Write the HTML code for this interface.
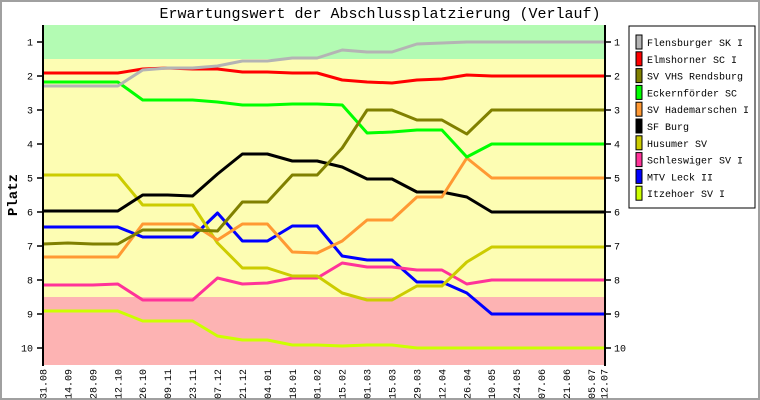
<!DOCTYPE html>
<html><head><meta charset="utf-8"><style>
html,body{margin:0;padding:0;background:#fff}
svg{display:block}
text{font-family:"Liberation Mono","DejaVu Sans Mono",monospace;fill:#000}
</style></head><body>
<svg width="760" height="400" viewBox="0 0 760 400" xmlns="http://www.w3.org/2000/svg">
<rect x="0" y="0" width="760" height="400" fill="#fff"/>
<rect x="1" y="1" width="758" height="398" fill="none" stroke="#a0a0a0" stroke-width="2"/>
<text x="380" y="18" font-size="15" text-anchor="middle">Erwartungswert der Abschlussplatzierung (Verlauf)</text>
<rect x="43" y="25" width="562" height="34" fill="#b3fbb3"/>
<rect x="43" y="59" width="562" height="238" fill="#fdfdb3"/>
<rect x="43" y="297" width="562" height="68" fill="#fdb3b3"/>
<g id="lines" fill="none" stroke-width="3" stroke-linejoin="round"></g>
<line x1="43" y1="25" x2="43" y2="366" stroke="#000" stroke-width="2"/>
<line x1="605" y1="25" x2="605" y2="366" stroke="#000" stroke-width="2"/>
<g id="ticks" stroke="#000" stroke-width="1.5"></g>
<g id="ylab" font-size="10"></g>
<g id="xlab" font-size="10"></g>
<text x="0" y="0" font-size="14" font-weight="bold" transform="translate(17,195) rotate(-90)" text-anchor="middle">Platz</text>
<rect x="629" y="26" width="126" height="182" fill="#fff" stroke="#000" stroke-width="1"/>
<g id="leg" font-size="10"></g>
</svg>
<script>
var NS="http://www.w3.org/2000/svg";
function el(t,a,p,tx){var e=document.createElementNS(NS,t);for(var k in a)e.setAttribute(k,a[k]);if(tx)e.textContent=tx;p.appendChild(e);return e;}
var xs=[];for(var i=0;i<23;i++)xs.push(43+24.93*i);xs.push(604);
function ext(a){while(a.length<24)a.push(a[a.length-1]);return a;}
var S=[
["Flensburger SK I","#b4b4b4",[86,86,86,86,70,68,68,66,61,61,58,58,50,52,52,44,43,42,42]],
["Elmshorner SC I","#ff0000",[73,73,73,73,69,68,69,69,72,72,73,73,80,82,83,80,79,75,76]],
["SV VHS Rendsburg","#808000",[244,243,244,244,230,230,230,231,202,202,175,175,148,110,110,120,120,134,110]],
["Eckernförder SC","#00ff00",[82,82,82,82,100,100,100,102,105,105,104,104,105,133,132,130,130,157,144]],
["SV Hademarschen I","#ff9933",[257,257,257,257,224,224,224,240,224,224,252,253,241,220,220,197,197,158,178]],
["SF Burg","#000000",[211,211,211,211,195,195,196,174,154,154,161,161,167,179,179,192,192,197,212]],
["Husumer SV","#cccc00",[175,175,175,175,205,205,205,243,268,268,276,276,293,300,300,286,286,262,247]],
["Schleswiger SV I","#ff3399",[285,285,285,284,300,300,300,278,284,283,278,278,263,267,267,270,270,284,280]],
["MTV Leck II","#0000ff",[227,227,227,227,237,237,237,213,241,241,226,226,256,260,260,282,282,293,314]],
["Itzehoer SV I","#ccff00",[311,311,311,311,321,321,321,336,340,340,345,345,346,345,345,348]]
];
var L=document.getElementById("lines"),G=document.getElementById("leg");
S.slice().reverse().forEach(function(s){var d=ext(s[2].slice());var pts=d.map(function(y,i){return xs[i].toFixed(1)+","+y}).join(" ");el("polyline",{points:pts,stroke:s[1]},L);});
S.forEach(function(s,i){var cy=42+i*16.8;el("rect",{x:636,y:cy-7,width:6,height:14,fill:s[1],stroke:"#000","stroke-width":1},G);el("text",{x:647,y:cy+4},G,s[0]);});
var T=document.getElementById("ticks"),Y=document.getElementById("ylab"),X=document.getElementById("xlab");
for(var r=1;r<=10;r++){var y=8+34*r;el("line",{x1:37,y1:y,x2:43,y2:y},T);el("line",{x1:605,y1:y,x2:611,y2:y},T);
el("text",{x:33,y:y+3.5,"text-anchor":"end"},Y,""+r);el("text",{x:614,y:y+3.5},Y,""+r);}
var D=["31.08","14.09","28.09","12.10","26.10","09.11","23.11","07.12","21.12","04.01","18.01","01.02","15.02","01.03","15.03","29.03","12.04","26.04","10.05","24.05","07.06","21.06","05.07","12.07"];
D.forEach(function(d,i){var x=xs[i]+3.5;el("text",{transform:"translate("+x+",369) rotate(-90)","text-anchor":"end"},X,d);});
</script>
</body></html>
